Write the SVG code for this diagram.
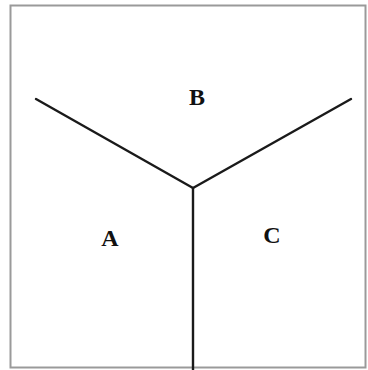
<svg xmlns="http://www.w3.org/2000/svg" width="368" height="370" viewBox="0 0 368 370">
<style>
.edge{stroke:#1a1a1a;stroke-width:2.4;fill:none;stroke-linecap:round}
.lbl{font-family:"Liberation Serif","Times New Roman",serif;font-weight:bold;font-size:24px;fill:#111;text-anchor:middle}
</style>
<rect x="0" y="0" width="368" height="370" fill="#ffffff"/>
<g id="frame">
<rect x="10.5" y="5.5" width="355" height="362" fill="none" stroke="#9a9a9a" stroke-width="2"/>
</g>
<g id="connectors">
<line class="edge" x1="36" y1="99" x2="193" y2="188"/>
<line class="edge" x1="351" y1="99" x2="193" y2="188"/>
<line class="edge" x1="193" y1="188" x2="193" y2="370"/>
</g>
<g id="node-B"><text class="lbl" x="197" y="105">B</text></g>
<g id="node-A"><text class="lbl" x="110" y="246">A</text></g>
<g id="node-C"><text class="lbl" x="272" y="243">C</text></g>
</svg>
